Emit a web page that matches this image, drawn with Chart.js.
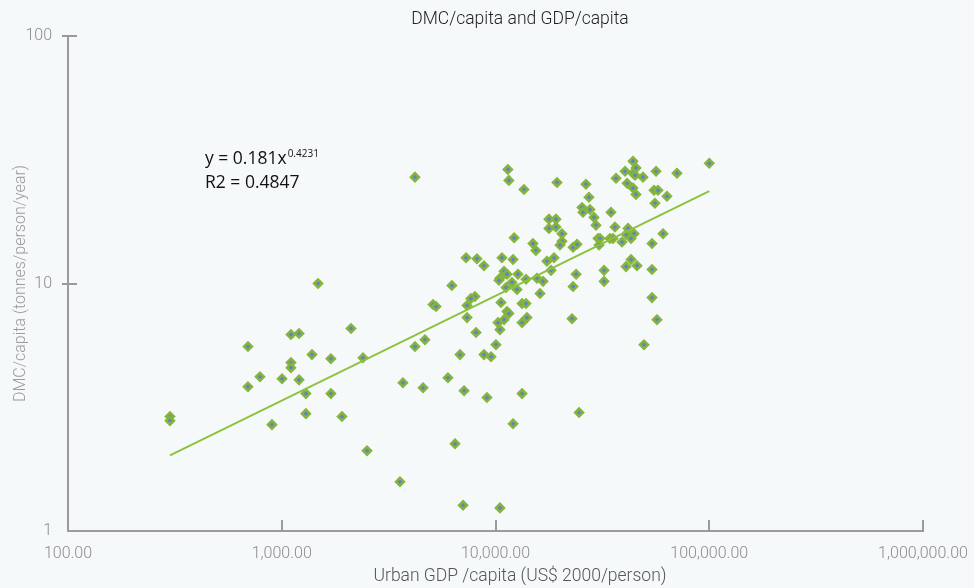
<!DOCTYPE html>
<html>
<head>
<meta charset="utf-8">
<script src="https://cdn.jsdelivr.net/npm/chart.js@4.4.1/dist/chart.umd.min.js"></script>
<style>
	html, body { margin: 0; padding: 0; background: #F6F9FA; }
	#wrap { width: 974px; height: 588px; }
</style>
</head>
<body>
<div id="wrap"><canvas id="grafico" width="974" height="588"></canvas></div>
<script>
var gdpPerCapita = [
	300, 300, 695, 1104, 1205, 2109, 1385, 1698, 2399, 1104, 1104, 791, 1003, 1205, 695, 1297, 1698, 1297, 1913, 900,
	2506, 3573, 3689, 4582, 4200, 4677, 1479, 4200,
	11430, 11550, 13590, 19400, 26500, 27360, 25400, 27670, 25650, 28900, 29520, 17790, 19180, 17790, 19180, 20460, 20460,
	12220, 14960, 15450, 20030, 23060, 24060, 30190, 7280, 8190, 8830, 10720, 12080, 17410, 18780, 10960, 11320, 10490,
	10380, 12740, 11940, 11200, 13890, 15630, 16680, 18190, 23830, 23060, 12610, 16150, 6250, 8010, 7670, 7360, 5100,
	5270, 10610, 13310, 13890, 11320, 11550, 7360, 10960, 10270, 10490, 13310, 14030, 22810, 8110, 10050,
	36640, 40380, 43990, 45430, 43990, 44950, 48980, 41250, 43990, 45430, 56390, 70640, 100000, 55150, 57540, 63390,
	55720, 34670, 36210, 41690, 40800, 44470, 43050, 39060, 34320, 35460, 60780, 53980, 30840, 30510, 32200, 32200,
	40800, 43050, 45920, 53980, 53980, 56960, 49510,
	6820, 8830, 9530, 5990, 7130, 9120, 13310, 24600, 12080, 6465, 7050, 10490
];
var dmcPerCapita = [
	2.90, 2.79, 5.56, 6.22, 6.28, 6.58, 5.16, 4.97, 5.01, 4.79, 4.57, 4.20, 4.12, 4.08, 3.83, 3.59, 3.59, 2.98, 2.90, 2.69,
	2.11, 1.58, 3.97, 3.79, 5.56, 5.93, 10.0, 26.9,
	28.9, 26.1, 24.0, 25.6, 25.2, 22.3, 20.3, 19.9, 19.4, 18.5, 17.2, 18.2, 18.2, 16.7, 16.9, 15.9, 14.8,
	15.3, 14.5, 13.6, 14.3, 14.0, 14.4, 15.2, 12.7, 12.6, 11.8, 12.7, 12.5, 12.3, 12.7, 11.2, 10.9, 10.5,
	10.3, 10.9, 10.1, 9.63, 10.4, 10.5, 10.2, 11.3, 10.9, 9.72, 9.46, 9.11, 9.81, 8.86, 8.69, 8.15, 8.22,
	8.07, 8.38, 8.30, 8.30, 7.71, 7.56, 7.28, 7.14, 6.95, 6.51, 6.95, 7.28, 7.21, 6.34, 5.66,
	26.6, 28.4, 31.2, 29.3, 27.9, 27.4, 26.9, 25.4, 24.3, 22.9, 28.4, 27.9, 30.6, 23.8, 23.8, 22.5,
	21.1, 19.4, 16.9, 16.7, 15.8, 15.9, 15.2, 14.7, 15.2, 15.2, 15.9, 14.5, 15.2, 14.3, 11.3, 10.2,
	11.7, 12.5, 11.8, 11.4, 8.77, 7.14, 5.66,
	5.16, 5.16, 5.06, 4.16, 3.69, 3.46, 3.59, 3.01, 2.71, 2.25, 1.27, 1.24
];
// power trendline, read at its two ends
var trendGdp = [300, 100000];
var trendDmc = [2.02, 23.6];

var xTicks = [100, 1000, 10000, 100000, 1000000];
var yTicks = [1, 10, 100];

var chartTitle = 'DMC/capita and GDP/capita';
var xTitle = 'Urban GDP /capita (US$ 2000/person)';
var yTitle = 'DMC/capita (tonnes/person/year)';
var eqLine1 = 'y = 0.181x';
var eqExp = '0.4231';
var eqLine2 = 'R2 = 0.4847';

var axisGray = '#9B9B9B';
var fontBase = 'Roboto, "Liberation Sans", sans-serif';

function toPoints(xs, ys) {
	return xs.map(function (x, i) { return { x: x, y: ys[i] }; });
}

var extras = {
	id: 'extras',
	beforeDraw: function (chart) {
		var ctx = chart.ctx;
		ctx.save();
		ctx.fillStyle = '#F6F9FA';
		ctx.fillRect(0, 0, chart.width, chart.height);
		ctx.restore();
	},
	afterDraw: function (chart) {
		var ctx = chart.ctx;
		var xs = chart.scales.x;
		var ys = chart.scales.y;
		var area = chart.chartArea;
		ctx.save();

		// tick marks, drawn on the inside like the original
		ctx.strokeStyle = axisGray;
		ctx.lineWidth = 2;
		xTicks.slice(1).forEach(function (v) {
			var px = Math.round(xs.getPixelForValue(v));
			ctx.beginPath();
			ctx.moveTo(px, area.bottom);
			ctx.lineTo(px, area.bottom - 11);
			ctx.stroke();
		});
		yTicks.slice(1).forEach(function (v) {
			var py = Math.round(ys.getPixelForValue(v));
			ctx.beginPath();
			ctx.moveTo(area.left - 6, py);
			ctx.lineTo(area.left + 9, py);
			ctx.stroke();
		});

		// chart title and x title
		ctx.textAlign = 'center';
		ctx.textBaseline = 'middle';
		ctx.fillStyle = '#222222';
		ctx.font = '300 17.5px ' + fontBase;
		ctx.fillText(chartTitle, 520, 20);
		ctx.fillStyle = '#555555';
		ctx.font = '300 17.5px ' + fontBase;
		ctx.fillText(xTitle, 520, 577);

		// trendline equation
		ctx.textAlign = 'left';
		ctx.textBaseline = 'alphabetic';
		ctx.fillStyle = '#111111';
		ctx.font = '17.5px "Open Sans", sans-serif';
		ctx.fillText(eqLine1, 205, 164);
		var w = ctx.measureText(eqLine1).width;
		ctx.fillText(eqLine2, 205, 188);
		ctx.font = '10px "Open Sans", sans-serif';
		ctx.fillText(eqExp, 205 + w + 1, 157);

		ctx.restore();
	}
};

new Chart(document.getElementById('grafico'), {
	type: 'scatter',
	data: {
		datasets: [
			{
				type: 'line',
				label: 'Trend',
				data: toPoints(trendGdp, trendDmc),
				borderColor: '#8DC23F',
				borderWidth: 2,
				pointRadius: 0,
				fill: false,
			},
			{
				label: 'Cities',
				data: toPoints(gdpPerCapita, dmcPerCapita),
				pointStyle: 'rectRot',
				pointRadius: 4,
				pointBorderWidth: 2.5,
				borderColor: '#86B43C',
				backgroundColor: '#5B85C6',
			},
		],
	},
	options: {
		responsive: false,
		animation: false,
		layout: { padding: { left: 0, right: 51, top: 36, bottom: 0 } },
		plugins: {
			legend: { display: false },
			tooltip: { enabled: false },
		},
		scales: {
			x: {
				type: 'logarithmic',
				min: 100,
				max: 1000000,
				afterBuildTicks: function (axis) {
					axis.ticks = xTicks.map(function (v) { return { value: v }; });
				},
				afterFit: function (axis) {
					axis.height = 57;
					axis.paddingLeft = 0;
					axis.paddingRight = 0;
				},
				grid: { display: false, drawTicks: false },
				border: { display: true, color: axisGray, width: 2 },
				ticks: {
					autoSkip: false,
					maxRotation: 0,
					padding: 13,
					color: '#8C8C8C',
					font: { family: fontBase, size: 16, weight: '300' },
					callback: function (v) {
						return Number(v).toLocaleString('en-US', { minimumFractionDigits: 2, maximumFractionDigits: 2 });
					},
				},
			},
			y: {
				type: 'logarithmic',
				min: 1,
				max: 100,
				afterBuildTicks: function (axis) {
					axis.ticks = yTicks.map(function (v) { return { value: v }; });
				},
				afterFit: function (axis) { axis.width = 68; },
				grid: { display: false, drawTicks: false },
				border: { display: true, color: axisGray, width: 2 },
				title: {
					display: true,
					text: yTitle,
					color: '#9A9A9A',
					padding: { top: 11, bottom: 0 },
					font: { family: fontBase, size: 16, weight: '300' },
				},
				ticks: {
					padding: 16,
					color: '#8C8C8C',
					font: { family: fontBase, size: 16, weight: '300' },
					callback: function (v) { return String(v); },
				},
			},
		},
	},
	plugins: [extras],
});
</script>
</body>
</html>
